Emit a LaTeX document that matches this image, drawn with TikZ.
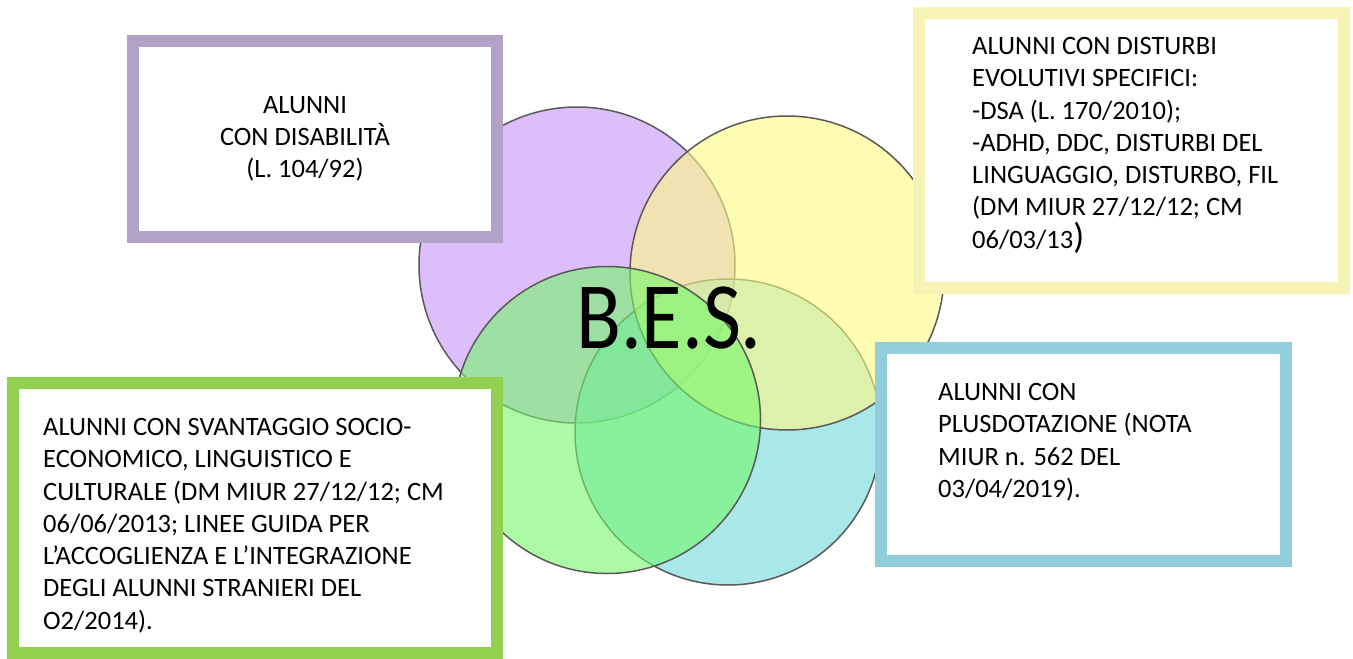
\documentclass[tikz,border=0pt]{standalone}
\usepackage{fontspec}
\setmainfont{Carlito}
\definecolor{cpur}{RGB}{197,147,247}
\definecolor{cyel}{RGB}{255,250,130}
\definecolor{ccya}{RGB}{113,217,217}
\definecolor{cgre}{RGB}{117,247,105}
\definecolor{bpur}{RGB}{179,162,199}
\definecolor{byel}{RGB}{247,243,181}
\definecolor{bgre}{RGB}{146,208,80}
\definecolor{bblu}{RGB}{146,205,220}
\begin{document}
\begin{tikzpicture}[x=1pt,y=-1pt,
  bubble/.style={circle, inner sep=0pt, minimum size=#1, line width=1.5pt, draw=black!65, fill opacity=0.6},
  frame/.style={draw=#1, line width=12pt, fill=white, inner sep=0pt},
  label/.style={inner sep=0pt, anchor=north west, align=left, font=\fontsize{26.5}{32.3}\selectfont}
]
\useasboundingbox[fill=white] (0,0) rectangle (1353,659);
% circles
\node[bubble=316pt, fill=cpur] (cP) at (577,265) {};
\node[bubble=306pt, fill=ccya] (cC) at (728,432) {};
\node[bubble=314pt, fill=cyel] (cY) at (787,273) {};
\node[bubble=307pt, fill=cgre] (cG) at (607,420) {};
\node[inner sep=0pt, xscale=0.87, font=\fontsize{95}{95}\selectfont] (bes) at (669,318) {B.E.S.};
% boxes
\node[frame=bpur, minimum width=364pt, minimum height=196pt] (bP) at (315,139) {};
\node[frame=byel, minimum width=425pt, minimum height=275pt] (bY) at (1131.5,150.5) {};
\node[frame=bgre, minimum width=484pt, minimum height=270pt] (bG) at (255,518) {};
\node[frame=bblu, minimum width=405pt, minimum height=213pt] (bB) at (1083.5,454.5) {};
% texts
\node[label, anchor=north, align=center] (tP) at (305,96) {ALUNNI\\CON DISABILITÀ\\(L. 104/92)};
\node[label] (tY) at (972,37) {ALUNNI CON DISTURBI\\EVOLUTIVI SPECIFICI:\\-DSA (L. 170/2010);\\-ADHD, DDC, DISTURBI DEL\\LINGUAGGIO, DISTURBO, FIL\\(DM MIUR 27/12/12; CM\\06/03/13{\fontsize{36}{32.3}\selectfont)}};
\node[label] (tG) at (43,418) {ALUNNI CON SVANTAGGIO SOCIO-\\ECONOMICO, LINGUISTICO E\\CULTURALE (DM MIUR 27/12/12; CM\\06/06/2013; LINEE GUIDA PER\\L’ACCOGLIENZA E L’INTEGRAZIONE\\DEGLI ALUNNI STRANIERI DEL\\O2/2014).};
\node[label] (tB) at (938,383) {ALUNNI CON\\PLUSDOTAZIONE (NOTA\\MIUR n. 562 DEL\\03/04/2019).};
\end{tikzpicture}
\end{document}
